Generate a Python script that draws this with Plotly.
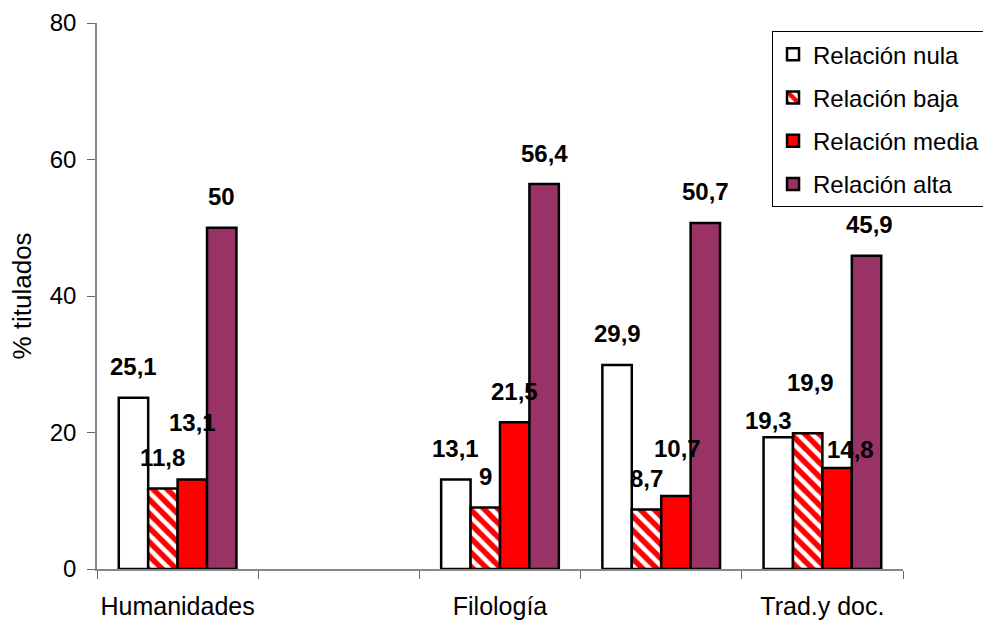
import plotly.graph_objects as go

# ---- data ----
categories = ["Humanidades", "Sin datos", "Filología", "Sin rótulo", "Trad.y doc."]
tick_labels = ["Humanidades", "", "Filología", "", "Trad.y doc."]
series_names = ["Relación nula", "Relación baja", "Relación media", "Relación alta"]
rel_nula = [25.1, None, 13.1, 29.9, 19.3]
rel_baja = [11.8, None, 9.0, 8.7, 19.9]
rel_media = [13.1, None, 21.5, 10.7, 14.8]
rel_alta = [50.0, None, 56.4, 50.7, 45.9]
y_ticks = [0, 20, 40, 60, 80]
y_title = "% titulados"

# ---- styles ----
series_values = [rel_nula, rel_baja, rel_media, rel_alta]
fills = ["#FFFFFF", "#FFFFFF", "#FF0000", "#993366"]
patterns = [None, dict(shape="\\", fgcolor="#FF0000", bgcolor="#FFFFFF", fgopacity=1,
                       size=10, solidity=0.55),
            None, None]
bargap = 0.27
# label extra shifts (px) per series / category (Excel label placement)
label_dy = [
    [0, 0, 0, 0, -14],
    [0, 0, 0, 0, 20],
    [26, 0, 0, 16, -13],
    [0, 0, 0, 0, 0],
]
label_dx = [
    [0, 0, 0, 0, -10],
    [0, 0, 0, 0, 3],
    [0, 0, 0, 2, 13],
    [0, 0, 0, 0, 3],
]
FONT = "Liberation Sans, Arial, sans-serif"
FS = 24

fig = go.Figure()
for i, (name, vals) in enumerate(zip(series_names, series_values)):
    marker = dict(color=fills[i], line=dict(color="black", width=2.5))
    if patterns[i] is not None:
        marker["pattern"] = patterns[i]
    fig.add_trace(go.Bar(
        name=name, x=categories, y=vals, marker=marker,
        legendgroup=f"g{i}", hoverinfo="skip",
    ))

nser = len(series_names)
bw = (1 - bargap) / nser
annotations = []
for i, vals in enumerate(series_values):
    for j, v in enumerate(vals):
        if v is None:
            continue
        xpos = j + (i - (nser - 1) / 2) * bw
        annotations.append(dict(
            x=xpos, y=v, xref="x", yref="y",
            text=f"{v:g}".replace(".", ","),
            showarrow=False, yanchor="middle", xanchor="center",
            yshift=31 + label_dy[i][j], xshift=label_dx[i][j],
            font=dict(family=FONT, size=FS, color="black", weight="bold"),
        ))

fig.update_layout(
    width=983, height=623,
    margin=dict(l=97, r=80, t=23, b=54, autoexpand=False),
    paper_bgcolor="white", plot_bgcolor="white",
    barmode="group", bargap=bargap, bargroupgap=0,
    font=dict(family=FONT, size=FS, color="black"),
    showlegend=True,
    legend=dict(
        x=0.8375, y=0.985, xanchor="left", yanchor="top",
        bordercolor="black", borderwidth=1, bgcolor="white",
        font=dict(family=FONT, size=FS, color="black"),
        traceorder="grouped", tracegroupgap=9,
        itemwidth=30,
    ),
    annotations=annotations,
    xaxis=dict(
        type="category", tickmode="array", tickvals=categories, ticktext=tick_labels,
        tickson="boundaries", ticks="outside", ticklen=8, tickcolor="#666",
        showline=True, linecolor="#888", linewidth=1.5, showgrid=False,
        tickfont=dict(family=FONT, size=25), ticklabelstandoff=14, tickangle=0,
        range=[-0.5, 4.5], automargin=False,
    ),
    yaxis=dict(
        range=[0, 80], tickmode="array", tickvals=y_ticks,
        ticks="outside", ticklen=8, tickcolor="#666",
        showline=True, linecolor="#888", linewidth=1.5, showgrid=False, zeroline=False,
        tickfont=dict(family=FONT, size=FS), ticklabelstandoff=6, automargin=False,
        title=dict(text=y_title, font=dict(family=FONT, size=26), standoff=11),
    ),
)

fig.write_html("out.html", post_script="document.body.style.margin='0';",
               config={"displayModeBar": False})
